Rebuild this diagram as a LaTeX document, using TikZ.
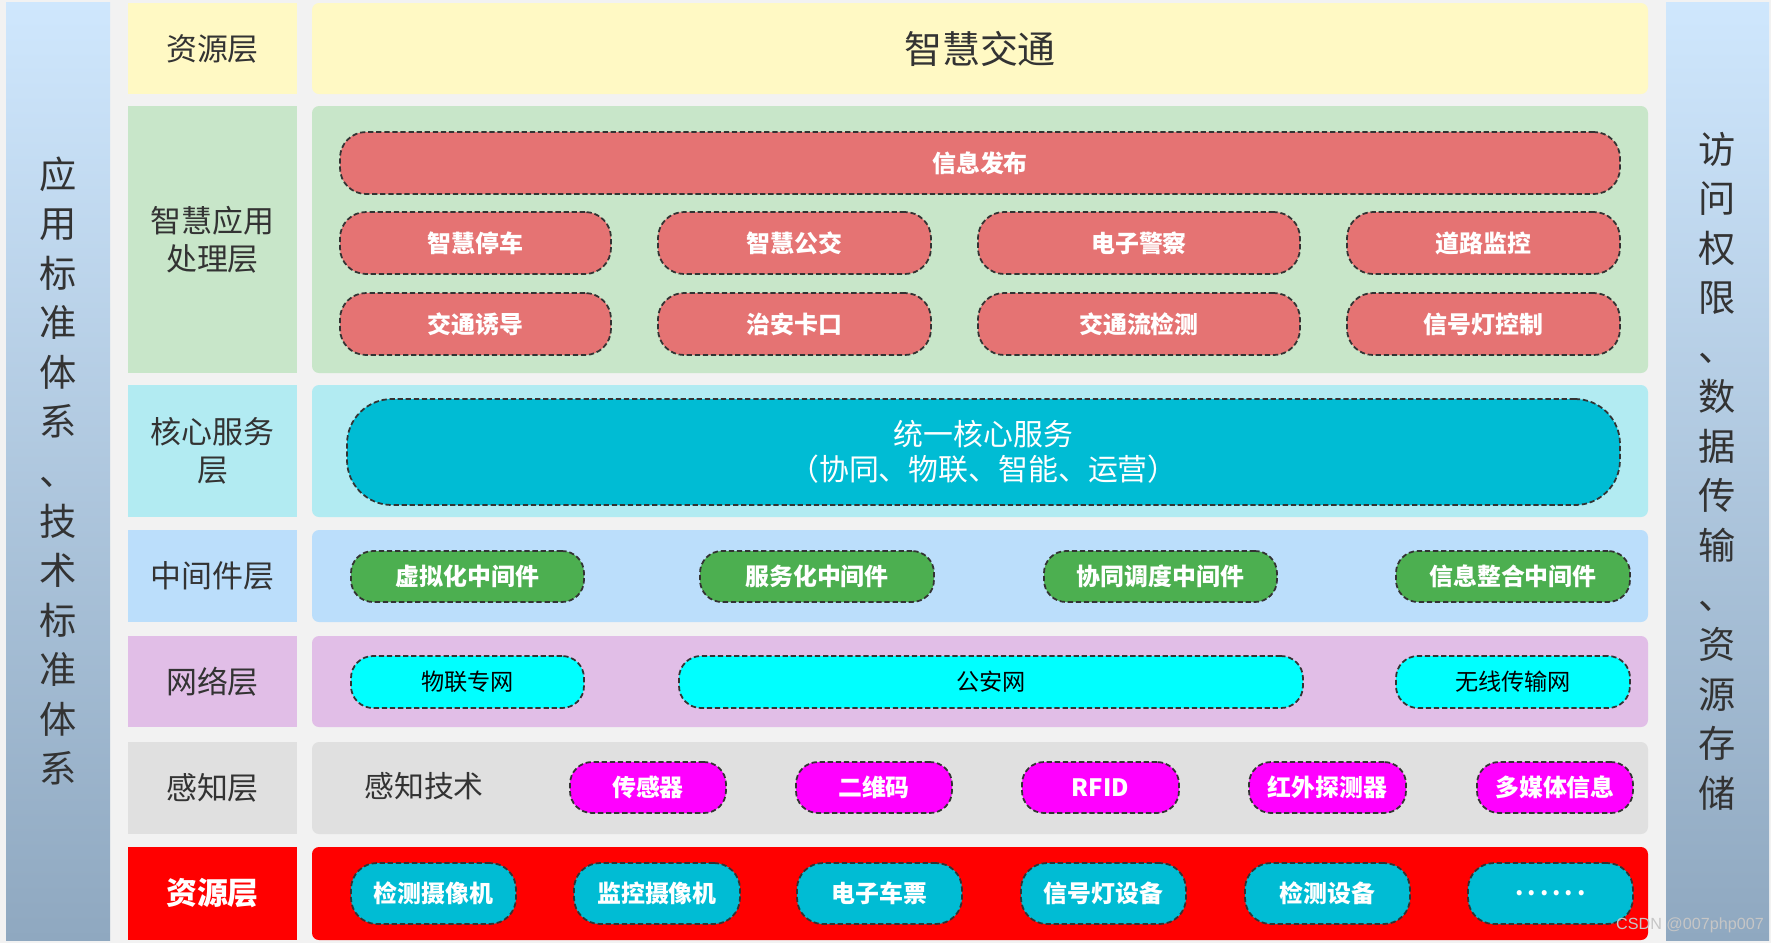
\documentclass[tikz,border=0pt]{standalone}
\usepackage{fontspec}
\setmainfont{Noto Sans CJK SC}
\newfontfamily\wmfont{Liberation Sans}

\definecolor{bggray}{HTML}{F2F2F2}
\definecolor{txtgray}{HTML}{333333}
\definecolor{dashgray}{HTML}{333333}
\definecolor{sidetop}{HTML}{CFE7FD}
\definecolor{sidebot}{HTML}{8FA8C0}
\definecolor{yel}{HTML}{FFF9C4}
\definecolor{grn}{HTML}{C8E6C9}
\definecolor{cyl}{HTML}{B2EBF2}
\definecolor{bll}{HTML}{BBDEFB}
\definecolor{pul}{HTML}{E1BEE7}
\definecolor{gyl}{HTML}{E0E0E0}
\definecolor{rdd}{HTML}{FF0000}
\definecolor{pillred}{HTML}{E57373}
\definecolor{pillcore}{HTML}{00BCD4}
\definecolor{pillgrn}{HTML}{4CAF50}
\definecolor{pillcy}{HTML}{00FFFF}
\definecolor{pillmag}{HTML}{FF00FF}

\begin{document}
\begin{tikzpicture}[
    % Side bars (standards / access)
    sidebar/.style={
        top color=sidetop, bottom color=sidebot,
        minimum width=1.04cm, minimum height=9.38cm,
        inner sep=0pt, align=center, text=txtgray,
        font=\fontsize{10.6pt}{14.1pt}\selectfont
    },
    % Layer label cells
    lyr/.style={
        fill=#1, minimum width=1.69cm, inner sep=0pt,
        align=center, text=txtgray,
        font=\fontsize{8.8pt}{10.9pt}\selectfont
    },
    % Layer content panels
    pnl/.style={
        fill=#1, rounded corners=2pt, minimum width=13.36cm,
        inner sep=0pt, text=txtgray
    },
    % Dashed pill boxes
    pill/.style={
        draw=dashgray, line width=0.5pt, dash pattern=on 1.5pt off 0.8pt,
        fill=#1, rounded corners=0.26cm, inner sep=0pt,
        minimum height=0.62cm, align=center, text=white,
        font=\fontsize{6.8pt}{8pt}\selectfont\bfseries
    },
    wm/.style={text=white!55!gray, inner sep=0pt, font=\wmfont\fontsize{4.6pt}{5pt}\selectfont}
]

% ---- BACKGROUND ----
\fill[bggray] (0,0) rectangle (17.71,-9.43);
\useasboundingbox (0,0) rectangle (17.71,-9.43);

% ---- SIDE BARS ----
\node[sidebar] (std_bar) at (0.58,-4.71)
    {应\\用\\标\\准\\体\\系\\、\\技\\术\\标\\准\\体\\系};
\node[sidebar, minimum width=1.03cm] (acc_bar) at (17.175,-4.71)
    {访\\问\\权\\限\\、\\数\\据\\传\\输\\、\\资\\源\\存\\储};

% ---- LAYER 1: SMART TRAFFIC ----
\node[lyr=yel, minimum height=0.91cm] (top_lbl) at (2.125,-0.485) {资源层};
\node[pnl=yel, minimum height=0.91cm] (top_pnl) at (9.80,-0.485)
    {\fontsize{10.8pt}{13pt}\selectfont 智慧交通};

% ---- LAYER 2: APPLICATIONS ----
\node[lyr=grn, minimum height=2.67cm] (app_lbl) at (2.125,-2.395) {智慧应用\\处理层};
\node[pnl=grn, minimum height=2.67cm] (app_pnl) at (9.80,-2.395) {};

\node[pill=pillred, minimum width=12.80cm] (a_pub) at (9.80,-1.63) {信息发布};
\node[pill=pillred, minimum width=2.71cm] (a_park)  at ( 4.755,-2.43) {智慧停车};
\node[pill=pillred, minimum width=2.73cm] (a_bus)   at ( 7.945,-2.43) {智慧公交};
\node[pill=pillred, minimum width=3.22cm] (a_pol)   at (11.39, -2.43) {电子警察};
\node[pill=pillred, minimum width=2.73cm] (a_road)  at (14.835,-2.43) {道路监控};
\node[pill=pillred, minimum width=2.71cm] (a_guide) at ( 4.755,-3.24) {交通诱导};
\node[pill=pillred, minimum width=2.73cm] (a_gate)  at ( 7.945,-3.24) {治安卡口};
\node[pill=pillred, minimum width=3.22cm] (a_flow)  at (11.39, -3.24) {交通流检测};
\node[pill=pillred, minimum width=2.73cm] (a_light) at (14.835,-3.24) {信号灯控制};

% ---- LAYER 3: CORE SERVICE ----
\node[lyr=cyl, minimum height=1.32cm] (core_lbl) at (2.125,-4.51) {核心服务\\层};
\node[pnl=cyl, minimum height=1.32cm] (core_pnl) at (9.80,-4.51) {};
\node[pill=pillcore, minimum width=12.73cm, minimum height=1.06cm,
      rounded corners=0.45cm, font=\fontsize{8.5pt}{10pt}\selectfont] (core)
    at (9.835,-4.52) {统一核心服务\\（协同、物联、智能、运营）};

% ---- LAYER 4: MIDDLEWARE ----
\node[lyr=bll, minimum height=0.92cm] (mid_lbl) at (2.125,-5.76) {中间件层};
\node[pnl=bll, minimum height=0.92cm] (mid_pnl) at (9.80,-5.76) {};
\node[pill=pillgrn, minimum width=2.33cm, minimum height=0.51cm, rounded corners=0.22cm] (m_virt) at ( 4.675,-5.765) {虚拟化中间件};
\node[pill=pillgrn, minimum width=2.34cm, minimum height=0.51cm, rounded corners=0.22cm] (m_serv) at ( 8.17, -5.765) {服务化中间件};
\node[pill=pillgrn, minimum width=2.33cm, minimum height=0.51cm, rounded corners=0.22cm] (m_sche) at (11.605,-5.765) {协同调度中间件};
\node[pill=pillgrn, minimum width=2.34cm, minimum height=0.51cm, rounded corners=0.22cm] (m_info) at (15.13, -5.765) {信息整合中间件};

% ---- LAYER 5: NETWORK ----
\node[lyr=pul, minimum height=0.91cm] (net_lbl) at (2.125,-6.815) {网络层};
\node[pnl=pul, minimum height=0.91cm] (net_pnl) at (9.80,-6.815) {};
\node[pill=pillcy, minimum width=2.33cm, minimum height=0.52cm, rounded corners=0.22cm,
      text=black, font=\fontsize{6.6pt}{8pt}\selectfont] (n_iot) at ( 4.675,-6.82) {物联专网};
\node[pill=pillcy, minimum width=6.24cm, minimum height=0.52cm, rounded corners=0.22cm,
      text=black, font=\fontsize{6.6pt}{8pt}\selectfont] (n_pub) at ( 9.91, -6.82) {公安网};
\node[pill=pillcy, minimum width=2.34cm, minimum height=0.52cm, rounded corners=0.22cm,
      text=black, font=\fontsize{6.6pt}{8pt}\selectfont] (n_wls) at (15.13, -6.82) {无线传输网};

% ---- LAYER 6: PERCEPTION ----
\node[lyr=gyl, minimum height=0.92cm] (sen_lbl) at (2.125,-7.88) {感知层};
\node[pnl=gyl, minimum height=0.92cm] (sen_pnl) at (9.80,-7.88) {};
\node[text=txtgray, font=\fontsize{8.5pt}{10pt}\selectfont] (sen_tech) at (4.24,-7.86) {感知技术};
\node[pill=pillmag, minimum width=1.56cm, minimum height=0.51cm, rounded corners=0.22cm] (s_sens) at ( 6.48, -7.875) {传感器};
\node[pill=pillmag, minimum width=1.56cm, minimum height=0.51cm, rounded corners=0.22cm] (s_qr)   at ( 8.74, -7.875) {二维码};
\node[pill=pillmag, minimum width=1.57cm, minimum height=0.51cm, rounded corners=0.22cm] (s_rfid) at (11.005,-7.875) {RFID};
\node[pill=pillmag, minimum width=1.57cm, minimum height=0.51cm, rounded corners=0.22cm] (s_ir)   at (13.275,-7.875) {红外探测器};
\node[pill=pillmag, minimum width=1.56cm, minimum height=0.51cm, rounded corners=0.22cm] (s_mm)   at (15.55, -7.875) {多媒体信息};

% ---- LAYER 7: RESOURCES ----
\node[lyr=rdd, minimum height=0.93cm, text=white,
      font=\fontsize{8.8pt}{10.9pt}\selectfont\bfseries] (res_lbl) at (2.125,-8.935) {资源层};
\node[pnl=rdd, minimum height=0.93cm] (res_pnl) at (9.80,-8.935) {};
\node[pill=pillcore, minimum width=1.65cm, minimum height=0.61cm] (r_cam1) at ( 4.335,-8.935) {检测摄像机};
\node[pill=pillcore, minimum width=1.66cm, minimum height=0.61cm] (r_cam2) at ( 6.57, -8.935) {监控摄像机};
\node[pill=pillcore, minimum width=1.65cm, minimum height=0.61cm] (r_tick) at ( 8.795,-8.935) {电子车票};
\node[pill=pillcore, minimum width=1.65cm, minimum height=0.61cm] (r_sig)  at (11.035,-8.935) {信号灯设备};
\node[pill=pillcore, minimum width=1.65cm, minimum height=0.61cm] (r_det)  at (13.275,-8.935) {检测设备};
\node[pill=pillcore, minimum width=1.65cm, minimum height=0.61cm] (r_more) at (15.505,-8.935) {.\,.\,.\,.\,.\,.};

% watermark
\node[wm] (wmark) at (16.90,-9.25) {CSDN @007php007};

\end{tikzpicture}
\end{document}
